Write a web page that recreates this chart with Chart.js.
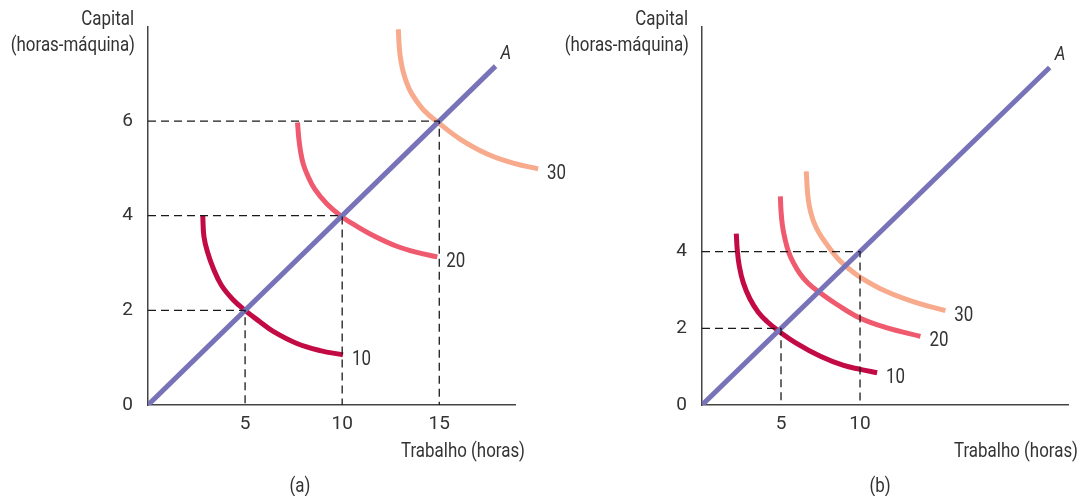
<!DOCTYPE html>
<html>
<head>
    <title>Retornos de escala</title>
    <style>
        body {
            margin: 0;
            padding: 0;
            background-color: #fff;
        }
        #wrap {
            position: relative;
            width: 1086px;
            height: 496px;
            overflow: hidden;
        }
        canvas {
            position: absolute;
            top: 0;
        }
    </style>
</head>
<body>
    <div id="wrap">
        <canvas id="panelA" width="600" height="496" style="left:0"></canvas>
        <canvas id="panelB" width="543" height="496" style="left:543px"></canvas>
    </div>

    <script src="https://cdn.jsdelivr.net/npm/chart.js"></script>
    <script>
        // ---- panel (a) ----
        const xTicksA = [5, 10, 15];
        const yTicksA = [0, 2, 4, 6];
        const rayA = [[0, 0], [17.9, 7.16]];
        const guidesA = [[5, 2], [10, 4], [15, 6]];
        const q10A = [[2.82, 4.00], [2.88, 3.56], [3.06, 3.24], [3.37, 2.88], [3.78, 2.53], [4.37, 2.23], [5.03, 1.99], [5.76, 1.76], [6.47, 1.55], [7.67, 1.30], [8.87, 1.15], [10.04, 1.06]];
        const q20A = [[7.70, 5.97], [7.77, 5.62], [7.86, 5.35], [7.99, 5.10], [8.20, 4.87], [8.59, 4.56], [9.23, 4.24], [9.98, 3.98], [10.82, 3.76], [11.70, 3.56], [12.78, 3.36], [13.80, 3.23], [14.90, 3.13]];
        const q30A = [[12.89, 7.94], [12.95, 7.51], [13.03, 7.26], [13.15, 7.03], [13.34, 6.79], [13.58, 6.58], [14.18, 6.24], [15.00, 5.95], [16.07, 5.62], [17.44, 5.31], [18.81, 5.11], [20.09, 4.99]];

        // ---- panel (b) ----
        const xTicksB = [5, 10];
        const yTicksB = [0, 2, 4];
        const rayB = [[0, 0], [22.0, 8.8]];
        const guidesB = [[5, 2], [10, 4]];
        const q10B = [[2.17, 4.47], [2.23, 4.05], [2.36, 3.62], [2.61, 3.19], [3.03, 2.77], [3.56, 2.42], [4.13, 2.17], [4.81, 1.94], [6.01, 1.60], [7.49, 1.27], [8.96, 1.03], [10.02, 0.93], [11.08, 0.84]];
        const q20B = [[4.96, 5.44], [5.00, 5.06], [5.09, 4.68], [5.25, 4.33], [5.47, 4.00], [5.78, 3.71], [6.19, 3.43], [6.70, 3.18], [7.38, 2.95], [8.54, 2.62], [10.02, 2.26], [11.71, 2.01], [13.82, 1.79]];
        const q30B = [[6.60, 6.09], [6.65, 5.70], [6.73, 5.34], [6.87, 5.04], [7.08, 4.76], [7.36, 4.52], [7.70, 4.30], [8.54, 3.84], [9.07, 3.63], [10.02, 3.33], [11.71, 2.95], [13.61, 2.66], [15.40, 2.46]];

        const curveLabels = ['10', '20', '30'];

        const FONT = 'Roboto, "Liberation Sans", sans-serif';
        const TEXT = '#333';

        function pts(arr) {
            return arr.map(p => ({ x: p[0], y: p[1] }));
        }

        // condensed look: squeeze text horizontally
        function squeezed(ctx, str, x, y, align, k) {
            const w = ctx.measureText(str).width * k;
            let left = x;
            if (align === 'right') left = x - w;
            if (align === 'center') left = x - w / 2;
            ctx.save();
            ctx.textAlign = 'left';
            ctx.translate(left, y);
            ctx.scale(k, 1);
            ctx.fillText(str, 0, 0);
            ctx.restore();
        }

        // text that sits outside the scales: axis captions, curve numbers, panel letter
        const textPlugin = {
            id: 'panelText',
            afterDatasetsDraw(chart) {
                const o = chart.options.plugins.panelText;
                const ctx = chart.ctx;
                const area = chart.chartArea;
                ctx.save();
                ctx.fillStyle = TEXT;
                ctx.font = '20px ' + FONT;
                ctx.textBaseline = 'middle';
                const k = Math.min(1, 124 / ctx.measureText('Trabalho (horas)').width);

                squeezed(ctx, 'Capital', area.left - 14, 20, 'right', k);
                squeezed(ctx, '(horas-máquina)', area.left - 13, 46, 'right', k);
                squeezed(ctx, 'Trabalho (horas)', area.right + o.titleShift, 452, 'right', k);
                squeezed(ctx, o.letter, o.letterX, 487, 'center', k);

                // isoquant numbers next to the end of each curve
                chart.data.datasets.forEach((ds, i) => {
                    if (!ds.tag) return;
                    const el = chart.getDatasetMeta(i).data;
                    const last = el[el.length - 1];
                    if (ds.tag === 'A') {
                        ctx.font = 'italic 20px ' + FONT;
                        squeezed(ctx, 'A', last.x + 5, last.y - 12, 'left', k);
                        ctx.font = '20px ' + FONT;
                    } else {
                        squeezed(ctx, ds.tag, last.x + 9, last.y + 5, 'left', k);
                    }
                });
                ctx.restore();
            }
        };

        function makePanel(id, p) {
            const datasets = [];
            p.guides.forEach(g => {
                datasets.push({
                    data: pts([[0, g[1]], g, [g[0], 0]]),
                    borderColor: '#1a1a1a',
                    borderWidth: 1.3,
                    borderDash: [8, 5],
                    tension: 0
                });
            });
            datasets.push({
                data: pts(p.ray),
                borderColor: '#7873b8',
                borderWidth: 5,
                tension: 0,
                tag: 'A'
            });
            const colors = ['#c20a45', '#ef5a6e', '#f8aa8c'];
            p.curves.forEach((c, i) => {
                datasets.push({
                    data: pts(c),
                    borderColor: colors[i],
                    borderWidth: 5,
                    tension: 0.4,
                    clip: false,
                    tag: curveLabels[i]
                });
            });

            new Chart(document.getElementById(id), {
                type: 'scatter',
                data: { datasets: datasets },
                options: {
                    responsive: false,
                    animation: false,
                    devicePixelRatio: 1,
                    showLine: true,
                    layout: { padding: { top: p.top, right: p.right, left: 0, bottom: 0 } },
                    elements: { point: { radius: 0, hoverRadius: 0 } },
                    plugins: {
                        legend: { display: false },
                        tooltip: { enabled: false },
                        panelText: { letter: p.letter, letterX: p.letterX, titleShift: p.titleShift }
                    },
                    scales: {
                        x: {
                            type: 'linear',
                            min: 0,
                            max: p.xMax,
                            grid: { display: false, drawTicks: false },
                            border: { display: true, color: '#444', width: 1.5 },
                            afterFit: s => { s.height = 91; },
                            afterBuildTicks: s => { s.ticks = p.xTicks.map(v => ({ value: v })); },
                            ticks: { autoSkip: false, maxRotation: 0, padding: 8, color: TEXT, font: { family: FONT, size: 19 } }
                        },
                        y: {
                            type: 'linear',
                            min: 0,
                            max: p.yMax,
                            grid: { display: false, drawTicks: false },
                            border: { display: true, color: '#444', width: 1.5 },
                            afterFit: s => { s.width = p.left; },
                            afterBuildTicks: s => { s.ticks = p.yTicks.map(v => ({ value: v })); },
                            ticks: { autoSkip: false, padding: 15, color: TEXT, font: { family: FONT, size: 19 } }
                        }
                    }
                },
                plugins: [textPlugin]
            });
        }

        makePanel('panelA', {
            xTicks: xTicksA, yTicks: yTicksA, ray: rayA, guides: guidesA,
            curves: [q10A, q20A, q30A],
            xMax: 18.9, yMax: 8, left: 148, top: 16, right: 85,
            letter: '(a)', letterX: 300, titleShift: 10
        });

        makePanel('panelB', {
            xTicks: xTicksB, yTicks: yTicksB, ray: rayB, guides: guidesB,
            curves: [q10B, q20B, q30B],
            xMax: 23.16, yMax: 9.87, left: 159, top: 15, right: 18,
            letter: '(b)', letterX: 337, titleShift: 10
        });
    </script>
</body>
</html>
